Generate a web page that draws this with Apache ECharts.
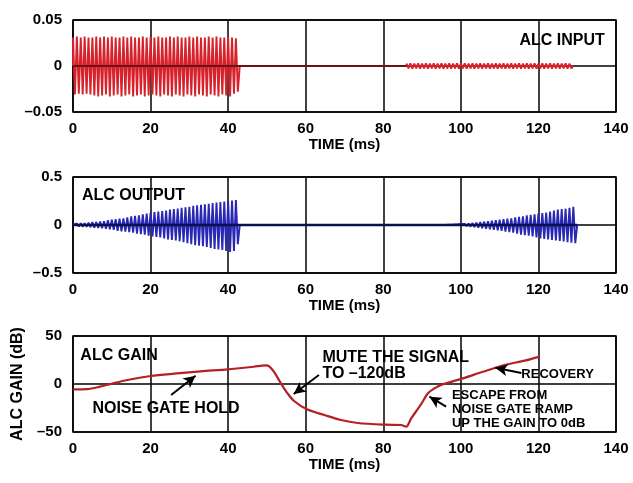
<!DOCTYPE html>
<html>
<head>
<meta charset="utf-8">
<script src="https://cdn.jsdelivr.net/npm/echarts@6/dist/echarts.min.js"></script>
<style>html,body{margin:0;padding:0;background:#fff}#main{width:633px;height:483px}</style>
</head>
<body>
<div id="main"></div>
<script>
// ALC input: peak values per cycle (1 ms cycles)
var inStart1 = 0;
var inUp1 = [0.031,0.032,0.031,0.032,0.031,0.031,0.032,0.031,0.032,0.031,0.032,0.031,0.031,0.032,0.031,0.032,0.031,0.031,0.032,0.031,0.032,0.031,0.032,0.031,0.031,0.032,0.031,0.032,0.031,0.031,0.032,0.031,0.032,0.031,0.031,0.032,0.031,0.032,0.031,0.031,0.032,0.031,0.03];
var inLo1 = [-0.031,-0.03,-0.031,-0.03,-0.031,-0.032,-0.033,-0.032,-0.031,-0.033,-0.032,-0.031,-0.033,-0.032,-0.031,-0.033,-0.032,-0.031,-0.033,-0.032,-0.031,-0.032,-0.033,-0.031,-0.032,-0.033,-0.031,-0.032,-0.033,-0.031,-0.032,-0.033,-0.031,-0.032,-0.033,-0.031,-0.032,-0.033,-0.031,-0.032,-0.033,-0.03,-0.028];
var inStart2 = 86;
var inUp2 = [0.0025,0.003,0.0025,0.003,0.0025,0.003,0.0025,0.003,0.0025,0.003,0.0025,0.003,0.0025,0.003,0.0025,0.003,0.0025,0.003,0.0025,0.003,0.0025,0.003,0.0025,0.003,0.0025,0.003,0.0025,0.003,0.0025,0.003,0.0025,0.003,0.0025,0.003,0.0025,0.003,0.0025,0.003,0.0025,0.003,0.0025,0.003,0.0025];
var inLo2 = [-0.0025,-0.003,-0.0025,-0.003,-0.0025,-0.003,-0.0025,-0.003,-0.0025,-0.003,-0.0025,-0.003,-0.0025,-0.003,-0.0025,-0.003,-0.0025,-0.003,-0.0025,-0.003,-0.0025,-0.003,-0.0025,-0.003,-0.0025,-0.003,-0.0025,-0.003,-0.0025,-0.003,-0.0025,-0.003,-0.0025,-0.003,-0.0025,-0.003,-0.0025,-0.003,-0.0025,-0.003,-0.0025,-0.003,-0.0025];

// ALC output
var outStart1 = 0;
var outUp1 = [0.015,0.016,0.018,0.02,0.025,0.03,0.032,0.036,0.04,0.05,0.055,0.06,0.065,0.07,0.08,0.09,0.095,0.1,0.11,0.12,0.13,0.135,0.14,0.145,0.15,0.16,0.165,0.17,0.18,0.185,0.19,0.2,0.205,0.21,0.215,0.22,0.23,0.235,0.24,0.245,0.25,0.255,0.26];
var outLo1 = [-0.012,-0.015,-0.018,-0.02,-0.022,-0.028,-0.03,-0.035,-0.04,-0.045,-0.05,-0.06,-0.065,-0.07,-0.075,-0.08,-0.09,-0.095,-0.1,-0.11,-0.12,-0.125,-0.13,-0.14,-0.15,-0.155,-0.16,-0.17,-0.18,-0.19,-0.2,-0.21,-0.215,-0.22,-0.23,-0.24,-0.25,-0.255,-0.26,-0.27,-0.28,-0.27,-0.2];
var outStart2 = 96;
var outUp2 = [0.003,0.004,0.005,0.007,0.01,0.012,0.015,0.02,0.025,0.03,0.035,0.04,0.045,0.05,0.055,0.06,0.065,0.07,0.08,0.085,0.09,0.1,0.105,0.11,0.12,0.125,0.13,0.14,0.15,0.16,0.165,0.17,0.18,0.19];
var outLo2 = [-0.003,-0.004,-0.006,-0.008,-0.01,-0.013,-0.017,-0.022,-0.028,-0.033,-0.04,-0.045,-0.05,-0.055,-0.06,-0.07,-0.075,-0.08,-0.09,-0.1,-0.105,-0.11,-0.12,-0.13,-0.14,-0.145,-0.15,-0.155,-0.16,-0.165,-0.17,-0.18,-0.185,-0.19];

// ALC gain (dB)
var gainT  = [0,3.6,7,9.7,14,20,26.8,32.9,40,46.6,49.7,50.5,51.8,53.6,55.3,57,60.3,64.8,69.1,73.4,80.5,84.6,85.9,87.2,89.8,91.5,93.2,95.4,100.5,105.7,111.3,116.5,120.3];
var gainDb = [-5.5,-5.3,-2.8,0,4.2,8.3,11,13.2,15.3,18,19.4,18.7,12.8,0.7,-9.7,-17.7,-26.4,-32.3,-37.5,-40.6,-42.4,-42.7,-44.4,-35.8,-20.8,-9.7,-4.5,-0.3,5.9,12.8,19.8,24.3,28.5];

// arrows [tailT, tailDb, headT, headDb]
var arrows = [[25.3,-11.5,31.6,8.6],[63.4,9.4,56.9,-10.4],[115.6,11.5,108.9,17],[96.2,-23.6,91.9,-13.2]];

// text notes [grid, t, value, text, size]
var notes = [
  [0, 115.1, 0.028, 'ALC INPUT', 16],
  [1, 2.3, 0.31, 'ALC OUTPUT', 16],
  [2, 1.9, 30, 'ALC GAIN', 16],
  [2, 5, -25.7, 'NOISE GATE HOLD', 16],
  [2, 64.3, 28, 'MUTE THE SIGNAL', 16],
  [2, 64.3, 11, 'TO \u2013120dB', 16],
  [2, 115.6, 10.4, 'RECOVERY', 13],
  [2, 97.7, -11.5, 'ESCAPE FROM', 13],
  [2, 97.7, -26, 'NOISE GATE RAMP', 13],
  [2, 97.7, -40.6, 'UP THE GAIN TO 0dB', 13]
];

function wave(bursts) {
  var pts = [];
  bursts.forEach(function (b) {
    pts.push([b[0], 0]);
    for (var i = 0; i < b[1].length; i++) {
      pts.push([b[0] + i, b[1][i]]);
      pts.push([b[0] + i + 0.5, b[2][i]]);
    }
    pts.push([b[0] + b[1].length, 0]);
  });
  return pts;
}

function fmt(v) {
  if (v === 0) return '0';
  return (v < 0 ? '\u2013' : '') + Math.abs(v);
}

var FONT = 'Liberation Sans';
var gridLine = { show: true, lineStyle: { color: '#000', width: 1.5 } };

function xAx(i) {
  return {
    type: 'value', gridIndex: i, min: 0, max: 140, interval: 20,
    name: 'TIME (ms)', nameLocation: 'middle', nameGap: 25,
    nameTextStyle: { color: '#000', fontSize: 15, fontWeight: 'bold', fontFamily: FONT },
    axisLine: { show: false }, axisTick: { show: false },
    axisLabel: { color: '#000', fontSize: 15, fontWeight: 'bold', fontFamily: FONT, margin: 9 },
    splitLine: gridLine
  };
}
function yAx(i, lim) {
  return {
    type: 'value', gridIndex: i, min: -lim, max: lim, interval: lim,
    axisLine: { show: false }, axisTick: { show: false },
    axisLabel: { color: '#000', fontSize: 15, fontWeight: 'bold', fontFamily: FONT, margin: 11, formatter: fmt },
    splitLine: gridLine
  };
}

var chart = echarts.init(document.getElementById('main'));
var yGain = yAx(2, 50);
yGain.name = 'ALC GAIN (dB)';
yGain.nameLocation = 'middle';
yGain.nameGap = 39;
yGain.nameTextStyle = { color: '#000', fontSize: 16, fontWeight: 'bold', fontFamily: FONT };

var gridBox = { show: true, borderColor: '#000', borderWidth: 1.5, left: 73, right: 17 };
var option = {
  animation: false,
  backgroundColor: '#fff',
  textStyle: { fontFamily: FONT },
  grid: [
    Object.assign({ top: 20, height: 92 }, gridBox),
    Object.assign({ top: 177, height: 96 }, gridBox),
    Object.assign({ top: 336, height: 96 }, gridBox)
  ],
  xAxis: [xAx(0), xAx(1), xAx(2)],
  yAxis: [yAx(0, 0.05), yAx(1, 0.5), yGain],
  series: [
    {
      type: 'line', xAxisIndex: 0, yAxisIndex: 0, showSymbol: false,
      lineStyle: { color: '#d8222b', width: 1.9 },
      areaStyle: { color: 'rgba(180,40,50,0.45)', origin: 0 },
      data: wave([[inStart1, inUp1, inLo1], [inStart2, inUp2, inLo2]])
    },
    {
      type: 'line', xAxisIndex: 0, yAxisIndex: 0, showSymbol: false,
      lineStyle: { color: '#6a1515', width: 2 },
      data: [[0, 0], [inStart2, 0]]
    },
    {
      type: 'line', xAxisIndex: 1, yAxisIndex: 1, showSymbol: false,
      lineStyle: { color: '#2828b4', width: 1.9 },
      areaStyle: { color: 'rgba(60,60,170,0.4)', origin: 0 },
      data: wave([[outStart1, outUp1, outLo1], [outStart2, outUp2, outLo2]])
    },
    {
      type: 'line', xAxisIndex: 1, yAxisIndex: 1, showSymbol: false,
      lineStyle: { color: '#0b1150', width: 2.5 },
      data: [[0, 0], [outStart2 + outUp2.length, 0]]
    },
    {
      type: 'line', xAxisIndex: 2, yAxisIndex: 2, showSymbol: false, smooth: 0.3,
      lineStyle: { color: '#b52025', width: 2.2 },
      data: gainT.map(function (t, i) { return [t, gainDb[i]]; }),
      markLine: {
        silent: true, symbol: ['none', 'arrow'], symbolSize: [9, 12],
        lineStyle: { color: '#000', width: 2, type: 'solid' },
        label: { show: false },
        data: arrows.map(function (a) { return [{ coord: [a[0], a[1]] }, { coord: [a[2], a[3]] }]; })
      }
    }
  ]
};
chart.setOption(option);

var texts = notes.map(function (n) {
  var p = chart.convertToPixel({ gridIndex: n[0] }, [n[1], n[2]]);
  return {
    type: 'text', x: p[0], y: p[1],
    style: { text: n[3], fill: '#000', fontSize: n[4], fontWeight: 'bold', fontFamily: FONT, verticalAlign: 'middle', align: 'left' }
  };
});
chart.setOption({ graphic: texts });
</script>
</body>
</html>
